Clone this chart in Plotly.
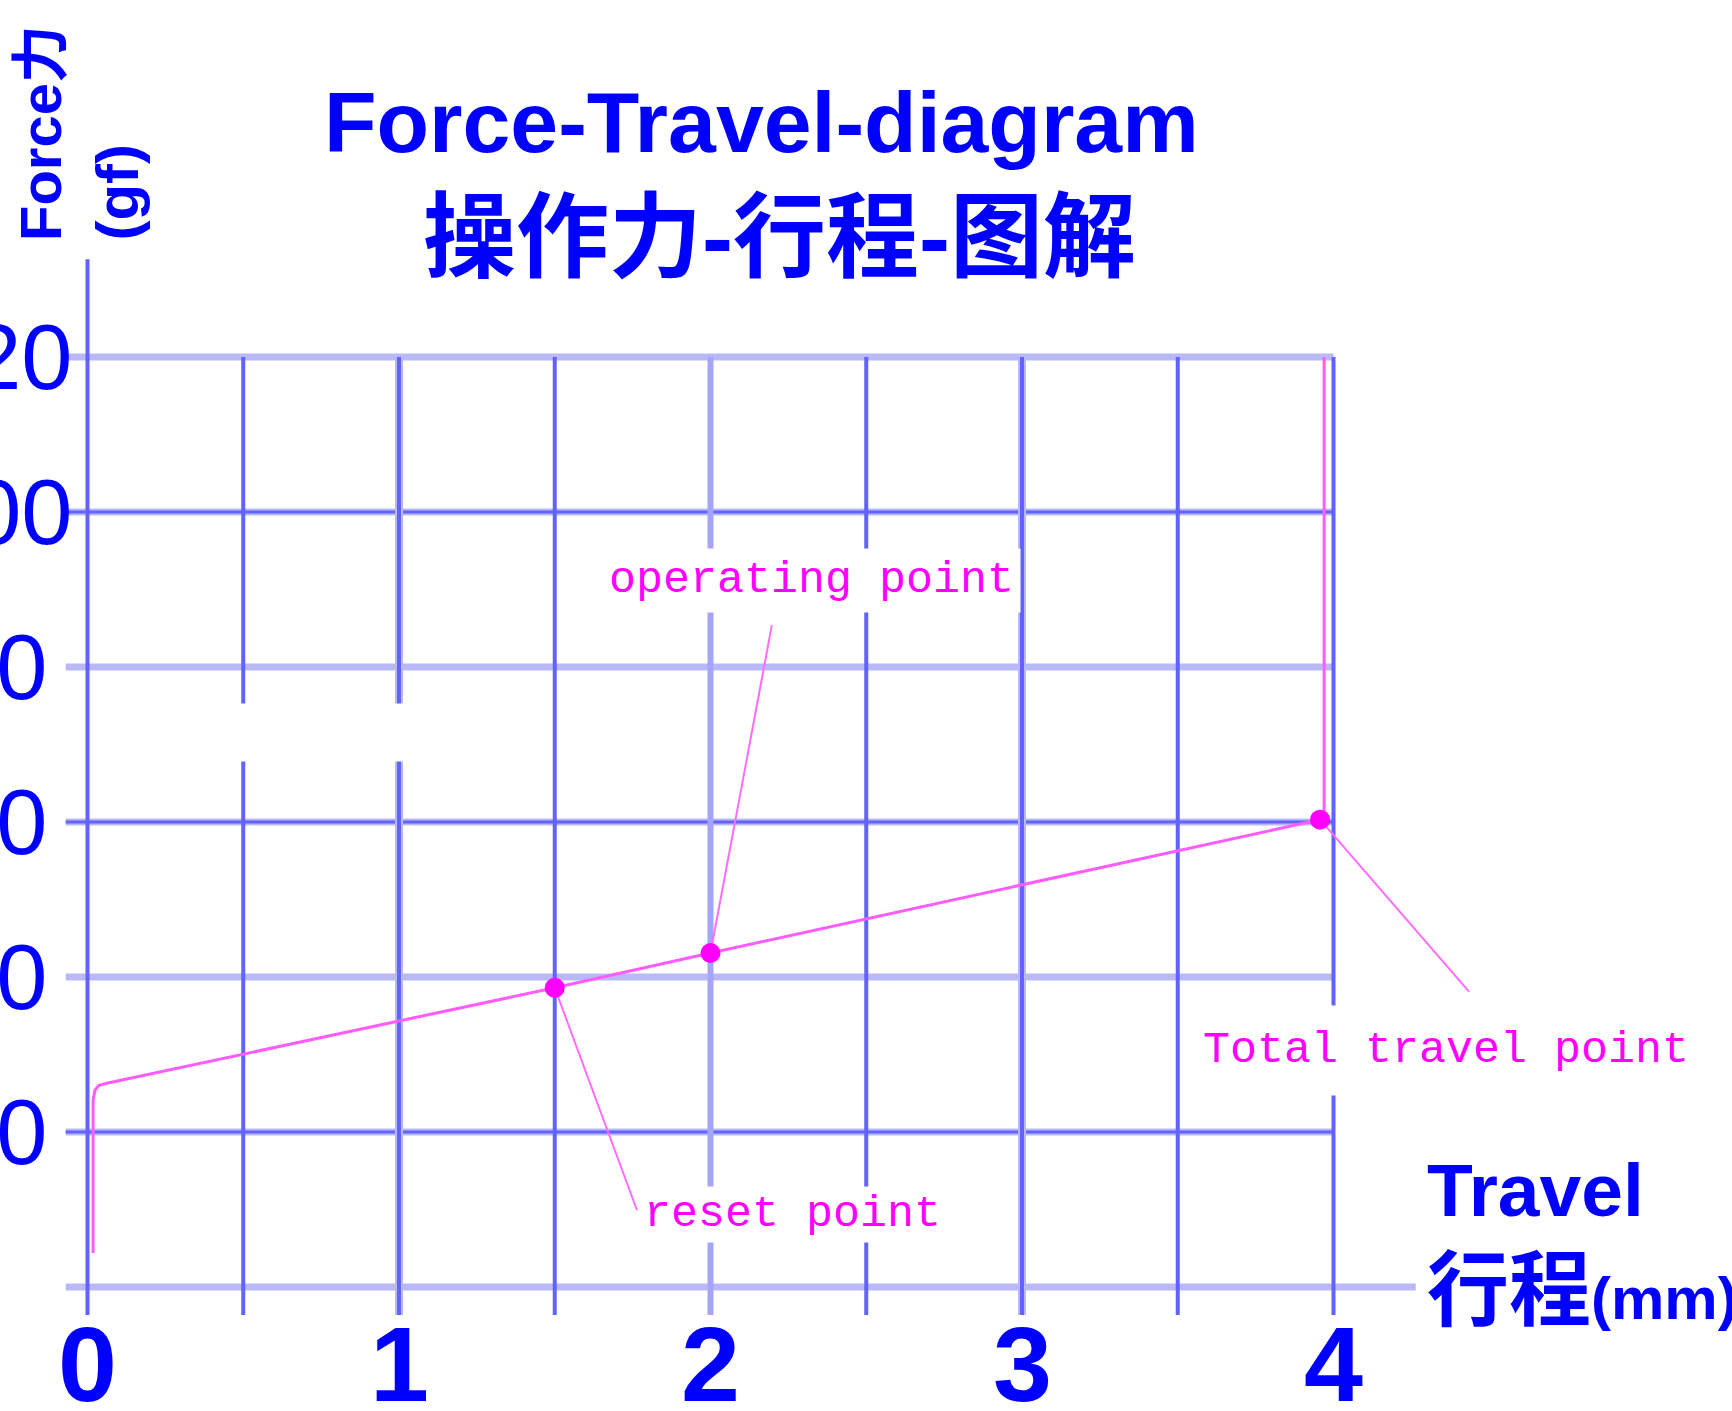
import plotly.graph_objects as go

# force-travel curve, travel in mm and force in gf
travel = [0.018, 0.018, 0.024, 0.036, 0.062, 1.5, 2.0, 3.957, 3.97, 3.97]
force = [4.4, 24.1, 25.4, 26.0, 26.3, 38.6, 43.1, 60.3, 60.6, 120]

# marked points and their callouts
point_names = ["reset point", "operating point", "Total travel point"]
point_travel = [1.5, 2.0, 3.957]
point_force = [38.6, 43.1, 60.3]
leader_travel = [1.764, 2.197, 4.435]
leader_force = [9.9, 85.4, 38.1]
label_travel = [2.262, 2.324, 4.361]
label_force = [9.4, 91.2, 30.5]

x_ticks = [0, 1, 2, 3, 4]
y_ticks = [20, 40, 60, 80, 100, 120]
grid_x = [0, 0.5, 1, 1.5, 2, 2.5, 3, 3.5, 4]
grid_y = [0, 20, 40, 60, 80, 100, 120]

BLUE = "#0000ff"
PINK = "#ff00ff"
DARK = "#6262ff"
LIGHT = "#b9b9f9"
SANS = "Liberation Sans, Noto Sans CJK SC, sans-serif"
MONO = "Liberation Mono, monospace"

fig = go.Figure()

# grid, drawn as shapes so the lines can stop where the original stops
shapes = []
for v in grid_y:
    x_end = 4.264 if v == 0 else 4.0
    shapes.append(dict(type="line", layer="below", x0=-0.07, x1=x_end, y0=v, y1=v,
                       line=dict(color=LIGHT, width=7)))
    if v in (20, 60, 100):
        shapes.append(dict(type="line", layer="below", x0=-0.07, x1=x_end, y0=v, y1=v,
                           line=dict(color=DARK, width=3)))
for v in grid_x:
    top = 132.6 if v == 0 else 120
    if v == 2:
        shapes.append(dict(type="line", layer="below", x0=v, x1=v, y0=-3.6, y1=top,
                           line=dict(color="#a4a4fa", width=6)))
        continue
    if v in (1, 3):
        shapes.append(dict(type="line", layer="below", x0=v, x1=v, y0=-3.6, y1=top,
                           line=dict(color=LIGHT, width=8)))
    shapes.append(dict(type="line", layer="below", x0=v, x1=v, y0=-3.6, y1=top,
                       line=dict(color=DARK, width=4)))
# blank patch in the grid
shapes.append(dict(type="rect", layer="below", x0=0.35, x1=1.15, y0=67.8, y1=75.3,
                   fillcolor="white", line=dict(width=0)))

fig.add_trace(go.Scatter(x=travel, y=force, mode="lines",
                         line=dict(color="#ff5cff", width=3), hoverinfo="skip"))
for i in range(len(point_names)):
    fig.add_trace(go.Scatter(x=[point_travel[i], leader_travel[i]],
                             y=[point_force[i], leader_force[i]], mode="lines",
                             line=dict(color="#ff6cff", width=2), hoverinfo="skip"))
fig.add_trace(go.Scatter(x=point_travel, y=point_force, mode="markers",
                         marker=dict(color=PINK, size=20), text=point_names,
                         hoverinfo="text"))

annotations = []
# title
annotations.append(dict(x=2.165, y=150.3, text="Force-Travel-diagram", showarrow=False,
                        xanchor="center", yanchor="middle",
                        font=dict(family=SANS, size=86, color=BLUE, weight="bold")))
annotations.append(dict(x=2.22, y=135.4, text="操作力-行程-图解", showarrow=False,
                        xanchor="center", yanchor="middle",
                        font=dict(family=SANS, size=93, color=BLUE, weight="bold")))
# axis titles
annotations.append(dict(x=-0.1525, y=134.7, text="Force力", showarrow=False, textangle=-90,
                        xanchor="center", yanchor="bottom",
                        font=dict(family=SANS, size=58, color=BLUE, weight="bold")))
annotations.append(dict(x=0.098, y=134.7, text="(gf)", showarrow=False, textangle=-90,
                        xanchor="center", yanchor="bottom",
                        font=dict(family=SANS, size=60, color=BLUE, weight="bold")))
annotations.append(dict(x=4.294, y=12.5, text="Travel", showarrow=False,
                        xanchor="left", yanchor="middle",
                        font=dict(family=SANS, size=75, color=BLUE, weight="bold")))
annotations.append(dict(x=4.294, y=-0.4,
                        text="行程<span style='font-size:60px'>(mm)</span>",
                        showarrow=False, xanchor="left", yanchor="middle",
                        font=dict(family=SANS, size=82, color=BLUE, weight="bold")))
# tick labels
for t in x_ticks:
    annotations.append(dict(x=t, y=-9.9, text=str(t), showarrow=False,
                            xanchor="center", yanchor="middle",
                            font=dict(family=SANS, size=106, color=BLUE, weight="bold")))
# y labels sit centred just left of the page edge, so only their ends show
for t in y_ticks:
    annotations.append(dict(xref="paper", x=-0.0023, y=t, text=str(t), showarrow=False,
                            xanchor="center", yanchor="middle",
                            font=dict(family=SANS, size=92, color=BLUE)))
# point labels
pads = [2, 6, 19]
for i in range(len(point_names)):
    annotations.append(dict(x=label_travel[i], y=label_force[i], text=point_names[i],
                            showarrow=False, xanchor="center", yanchor="middle",
                            bgcolor="white", borderpad=pads[i],
                            font=dict(family=MONO, size=45, color=PINK)))

fig.update_layout(
    width=1732, height=1411,
    margin=dict(l=0, r=0, t=0, b=0),
    paper_bgcolor="white", plot_bgcolor="white",
    showlegend=False,
    shapes=shapes,
    annotations=annotations,
    xaxis=dict(visible=False, range=[-0.2809, 5.2793], fixedrange=True),
    yaxis=dict(visible=False, range=[-16.0, 166.06], fixedrange=True),
)

fig.write_html("out.html", config={"displayModeBar": False},
               post_script="document.body.style.margin='0';document.body.style.overflow='hidden';")
